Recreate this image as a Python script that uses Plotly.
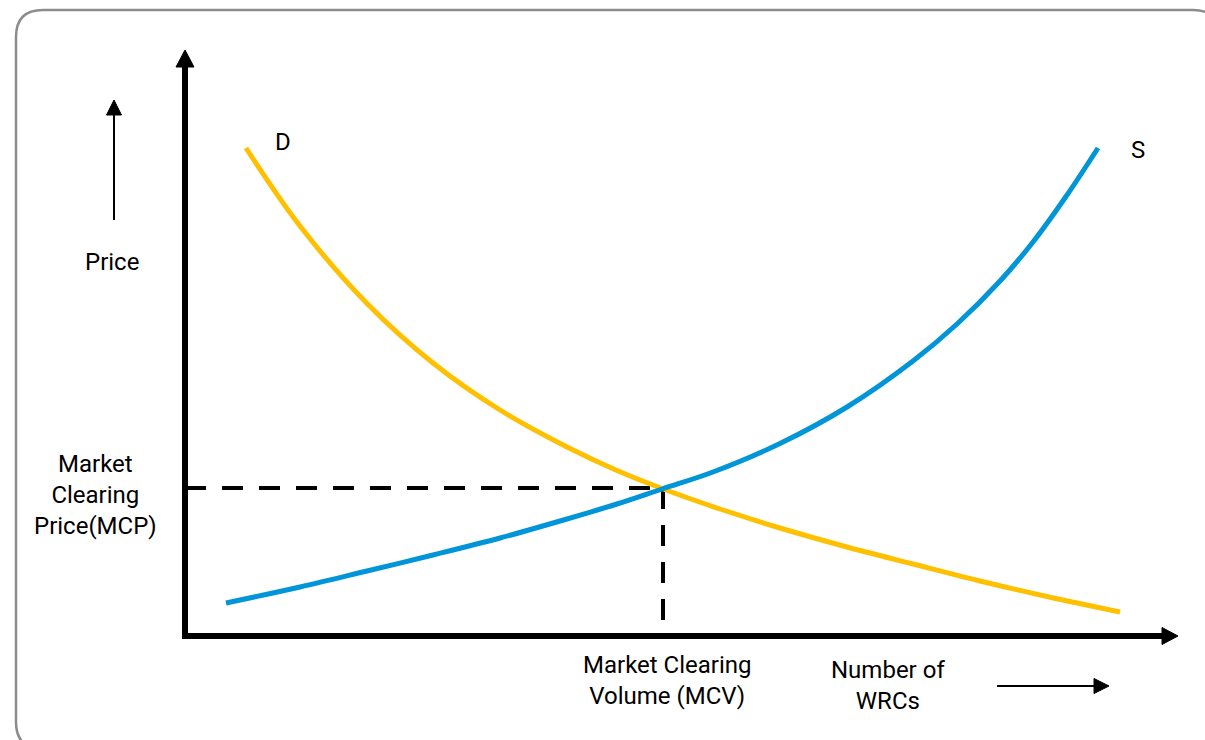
import plotly.graph_objects as go

# ---- data (arbitrary quantity / price units, origin at the axes corner) ----
demand_q = [6.1, 11.5, 18.2, 24.8, 31.5, 38.2, 43.2, 47.7, 53.5, 59.5, 66.2, 72.8, 79.5, 86.2, 93.5]
demand_p = [48.8, 41.0, 33.25, 27.3, 22.6, 18.9, 16.55, 14.75, 12.7, 10.8, 8.9, 7.2, 5.5, 3.95, 2.4]

supply_q = [4.1, 11.5, 18.2, 24.8, 31.5, 38.2, 43.2, 47.7, 52.8, 59.5, 66.2, 72.8, 77.2, 81.5, 84.8, 88.2, 91.3]
supply_p = [3.3, 4.9, 6.5, 8.1, 9.8, 11.7, 13.2, 14.7, 16.4, 19.25, 22.9, 27.5, 31.2, 35.5, 39.4, 44.1, 48.8]

mcv = 47.8   # market clearing volume
mcp = 14.8   # market clearing price

YELLOW = "#FFC000"
BLUE = "#0095D9"
FONT = "Roboto"

fig = go.Figure()

# dashed guides to the equilibrium
fig.add_trace(go.Scatter(x=[0, mcv], y=[mcp, mcp], mode="lines",
                         line=dict(color="black", width=4, dash="21px,16px"),
                         hoverinfo="skip"))
fig.add_trace(go.Scatter(x=[mcv, mcv], y=[mcp, 0], mode="lines",
                         line=dict(color="black", width=4, dash="21px,16px"),
                         hoverinfo="skip"))

# demand and supply curves
fig.add_trace(go.Scatter(x=demand_q, y=demand_p, mode="lines", name="D",
                         line=dict(color=YELLOW, width=5, shape="spline", smoothing=1.0)))
fig.add_trace(go.Scatter(x=supply_q, y=supply_p, mode="lines", name="S",
                         line=dict(color=BLUE, width=5, shape="spline", smoothing=1.0)))

shapes = []
# rounded frame
L, T, R, B, r = -16.9, 62.6, 103.5, -11.3, 2.7
shapes.append(dict(
    type="path", xref="x", yref="y",
    path=(f"M {L+r},{T} L {R-r},{T} Q {R},{T} {R},{T-r} L {R},{B+r} Q {R},{B} {R-r},{B} "
          f"L {L+r},{B} Q {L},{B} {L},{B+r} L {L},{T-r} Q {L},{T} {L+r},{T} Z"),
    line=dict(color="#8C8C8C", width=2.5), fillcolor="rgba(0,0,0,0)", layer="below"))

# main axes
shapes.append(dict(type="path", xref="x", yref="y",
                   path="M 0,57.2 L 0,0 L 97.9,0",
                   line=dict(color="black", width=6), fillcolor="rgba(0,0,0,0)"))
shapes.append(dict(type="path", xref="x", yref="y",
                   path="M -0.9,56.9 L 0.9,56.9 L 0,58.6 Z",
                   line=dict(color="black", width=1), fillcolor="black"))
shapes.append(dict(type="path", xref="x", yref="y",
                   path="M 97.7,0.85 L 97.7,-0.85 L 99.3,0 Z",
                   line=dict(color="black", width=1), fillcolor="black"))

# small "Price" arrow
shapes.append(dict(type="line", xref="x", yref="y", x0=-7.1, y0=41.6, x1=-7.1, y1=52.3,
                   line=dict(color="black", width=2)))
shapes.append(dict(type="path", xref="x", yref="y",
                   path="M -7.85,52.1 L -6.35,52.1 L -7.1,53.6 Z",
                   line=dict(color="black", width=1), fillcolor="black"))
# small "Number of WRCs" arrow
shapes.append(dict(type="line", xref="x", yref="y", x0=81.2, y0=-5.0, x1=91.1, y1=-5.0,
                   line=dict(color="black", width=2)))
shapes.append(dict(type="path", xref="x", yref="y",
                   path="M 90.9,-4.25 L 90.9,-5.75 L 92.4,-5.0 Z",
                   line=dict(color="black", width=1), fillcolor="black"))

def ann(text, x, y, size=24):
    return dict(text=text, x=x, y=y, xref="x", yref="y", showarrow=False,
                xanchor="center", yanchor="middle",
                font=dict(family=FONT, size=size, color="black"))

annotations = [
    ann("D", 9.8, 49.4),
    ann("S", 95.3, 48.6),
    ann("Price", -7.3, 37.4),
    ann("Market<br>Clearing<br>Price(MCP)", -9.0, 14.1),
    ann("Market Clearing<br>Volume (MCV)", 48.25, -4.45),
    ann("Number of<br>WRCs", 70.25, -4.95),
]

fig.update_layout(
    width=1205, height=740,
    margin=dict(l=0, r=0, t=0, b=0, pad=0),
    paper_bgcolor="white", plot_bgcolor="white",
    showlegend=False,
    xaxis=dict(range=[-18.5, 102.0], visible=False, fixedrange=True),
    yaxis=dict(range=[-10.4, 63.6], visible=False, fixedrange=True),
    shapes=shapes,
    annotations=annotations,
)

fig.write_html("out.html",
               config={"displayModeBar": False},
               post_script="document.body.style.margin='0';document.body.style.overflow='hidden';")
